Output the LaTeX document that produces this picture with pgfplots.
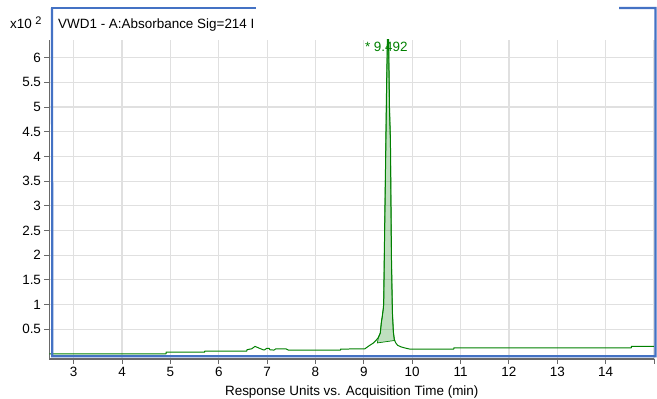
\documentclass[border=0pt]{standalone}
\usepackage{pgfplots}
\pgfplotsset{compat=1.18}
\usepackage{fontspec}
\setmainfont{Liberation Sans}
\definecolor{trace}{RGB}{0,128,0}
\definecolor{frameblue}{RGB}{68,114,196}
\definecolor{gridc}{RGB}{224,224,224}
\definecolor{axc}{RGB}{105,105,105}
\begin{document}
\begin{tikzpicture}[x=1bp,y=1bp]
\path[use as bounding box] (-49.5,-39.3) rectangle (607.5,358.7);
\begin{axis}[
  at={(0,0)}, anchor=south west,
  scale only axis, width=604.5bp, height=318.7bp,
  xmin=2.5, xmax=15, ymin=-0.1, ymax=6.36,
  axis lines=left, axis line style={-, draw=axc, line width=1.6pt},
  xtick={3,4,...,15}, xticklabels={3,4,5,6,7,8,9,10,11,12,13,14,},
  ytick={0.5,1,...,6}, yticklabels={0.5,1,1.5,2,2.5,3,3.5,4,4.5,5,5.5,6},
  tick align=outside, major tick length=5bp,
  tick style={draw=axc, line width=1pt},
  grid=major, major grid style={draw=gridc, line width=1.2pt},
  /pgf/number format/assume math mode=true,
  ticklabel style={font=\fontsize{13.5}{15}\selectfont, text=black},
  xticklabel style={yshift=0bp},
  yticklabel style={xshift=0bp},
  xlabel={Response Units vs. Acquisition Time (min)},
  xlabel style={at={(axis description cs:0.5,0)}, anchor=base, yshift=-36.3bp, font=\fontsize{13.5}{15}\selectfont},
  clip=true,
]
% integrated peak area
\addplot[draw=trace, line width=0.7pt, fill=trace, fill opacity=0.25] coordinates {
 (9.28,0.22) (9.30,0.33) (9.34,0.42) (9.36,0.62) (9.38,0.75) (9.40,0.90) (9.41,1.0)
 (9.43,2.5) (9.45,3.9) (9.47,5.4) (9.49,6.5) (9.51,6.5) (9.53,5.0) (9.55,4.3)
 (9.57,2.0) (9.59,0.85) (9.61,0.45) (9.63,0.30) (9.64,0.27)
} -- cycle;
% chromatogram trace
\addplot[draw=trace, line width=1pt, line join=round] coordinates {
 (2.5,0.00) (4.91,0.00) (4.91,0.035) (5.71,0.035) (5.71,0.055) (6.58,0.055)
 (6.58,0.08) (6.62,0.09) (6.68,0.10) (6.75,0.15) (6.82,0.12) (6.92,0.08)
 (6.95,0.08) (6.99,0.11) (7.04,0.11) (7.06,0.08) (7.14,0.075) (7.18,0.10)
 (7.39,0.10) (7.44,0.075) (8.52,0.075) (8.52,0.095) (9.02,0.10)
 (9.12,0.17) (9.20,0.22) (9.26,0.28) (9.30,0.33) (9.34,0.42) (9.36,0.62)
 (9.38,0.75) (9.40,0.90) (9.41,1.0) (9.43,2.5) (9.45,3.9) (9.47,5.4)
 (9.49,6.5) (9.51,6.5) (9.53,5.0) (9.55,4.3) (9.57,2.0) (9.59,0.85)
 (9.61,0.45) (9.63,0.28) (9.66,0.22) (9.70,0.17) (9.77,0.14) (9.84,0.12)
 (9.95,0.095) (10.86,0.095) (10.86,0.12) (14.53,0.12) (14.53,0.15) (15,0.15)
};
\node[anchor=base west, text=trace, font=\fontsize{13.5}{15}\selectfont, inner sep=0pt] at (axis cs:9.02,6.13) {* 9.492};
\end{axis}
% frame
\draw[frameblue, line width=2.2bp] (2.5,350.7) -- (2.8,2.4) -- (606,2.4) -- (606,350.7) -- (569.5,350.7);
\draw[frameblue, line width=2.2bp] (1.7,350.7) -- (206.5,350.7);
\node[anchor=base west, inner sep=0pt, font=\fontsize{13.5}{15}\selectfont] at (8.5,330.4) {VWD1 - A:Absorbance Sig=214 I};
\node[anchor=base west, inner sep=0pt, font=\fontsize{13.5}{15}\selectfont] at (-39.5,330.4) {x10\hspace{3.5bp}\raisebox{4bp}{\fontsize{11}{12}\selectfont 2}};
\end{tikzpicture}
\end{document}
